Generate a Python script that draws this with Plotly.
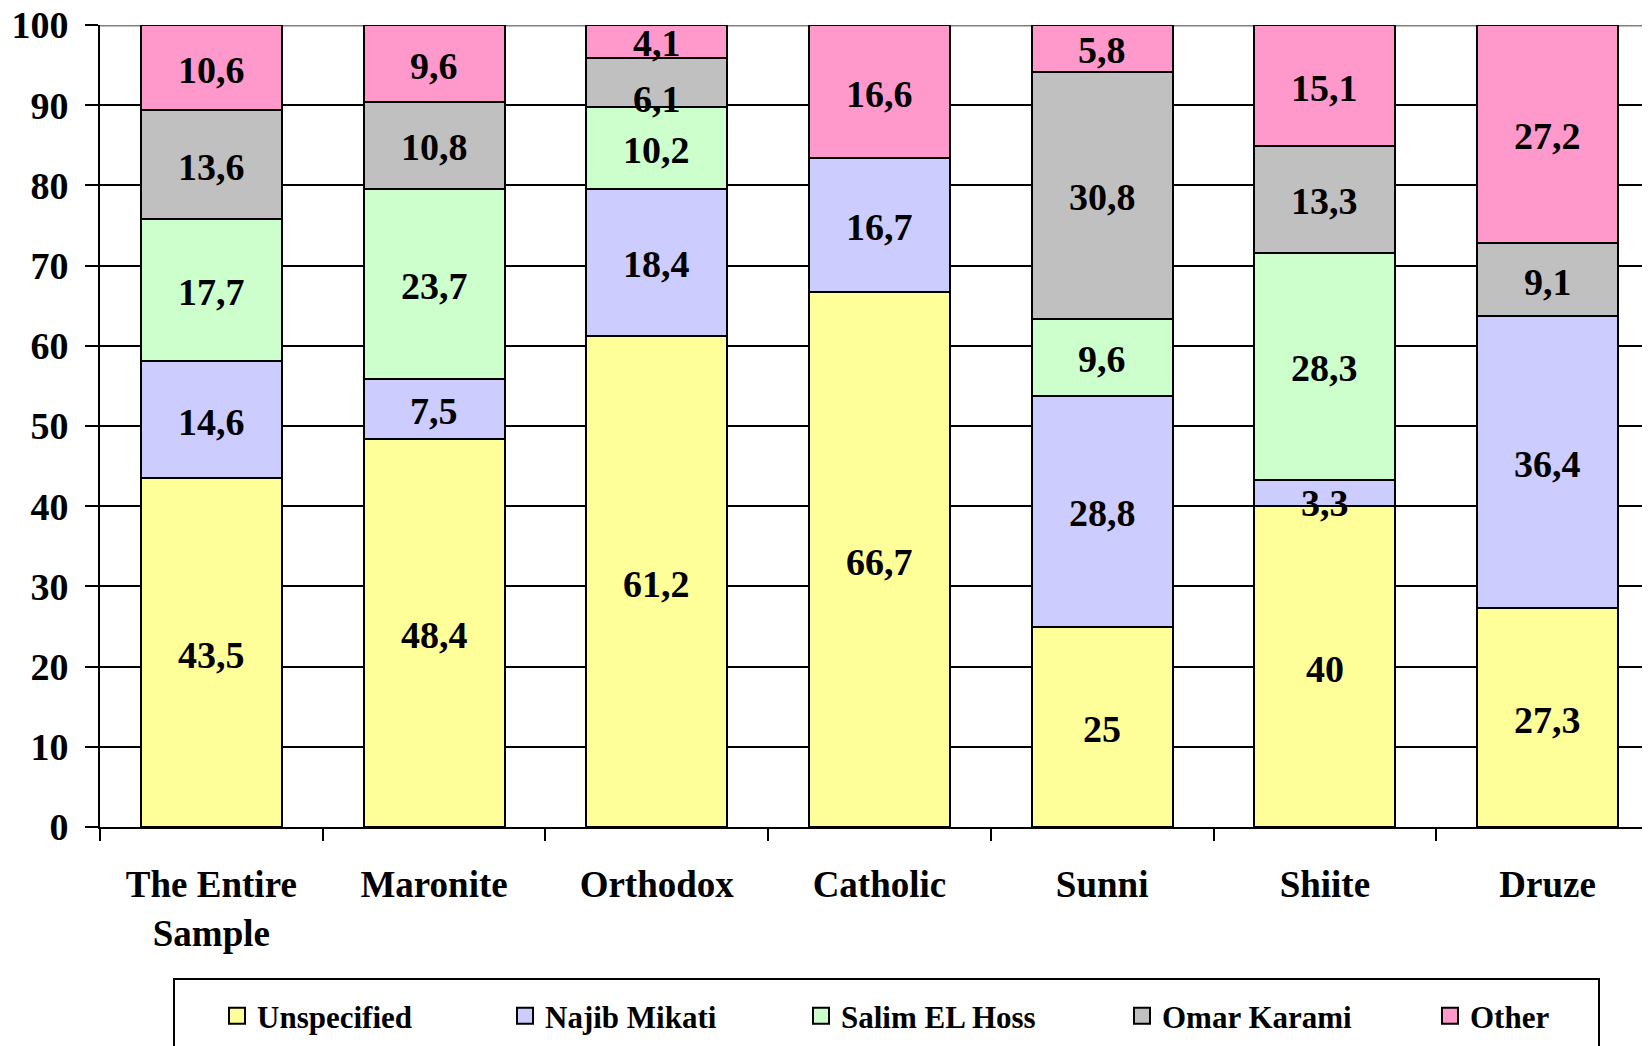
import plotly.graph_objects as go

categories = ["The Entire<br>Sample", "Maronite", "Orthodox", "Catholic", "Sunni", "Shiite", "Druze"]
series_names = ["Unspecified", "Najib Mikati", "Salim EL Hoss", "Omar Karami", "Other"]
unspecified = [43.5, 48.4, 61.2, 66.7, 25, 40, 27.3]
najib_mikati = [14.6, 7.5, 18.4, 16.7, 28.8, 3.3, 36.4]
salim_el_hoss = [17.7, 23.7, 10.2, 0, 9.6, 28.3, 0]
omar_karami = [13.6, 10.8, 6.1, 0, 30.8, 13.3, 9.1]
other = [10.6, 9.6, 4.1, 16.6, 5.8, 15.1, 27.2]
y_ticks = [0, 10, 20, 30, 40, 50, 60, 70, 80, 90, 100]

series_values = [unspecified, najib_mikati, salim_el_hoss, omar_karami, other]
colors = ["#FFFF99", "#CCCCFF", "#CCFFCC", "#C0C0C0", "#FF99CC"]

FONT = "Liberation Serif"
OFF = 8  # default page body margin of the html page
W, H = 1650 - OFF, 1046 - OFF
ML, MT, MB = 100 - OFF, 25 - OFF, 219
PW, PH = W - ML, H - MT - MB

legend_ids = ["legend", "legend2", "legend3", "legend4", "legend5"]
legend_left_px = [217, 505, 801, 1122, 1430]  # page coordinates
LEGEND_Y = 1016

fig = go.Figure()
for name, vals, col in zip(series_names, series_values, colors):
    fig.add_trace(go.Bar(
        x=categories, y=vals, name=name, showlegend=False,
        marker=dict(color=col, line=dict(color="black", width=2)),
    ))
# legend entries (square swatches)
for name, col, lid in zip(series_names, colors, legend_ids):
    fig.add_trace(go.Scatter(
        x=[None], y=[None], name=name, mode="markers", legend=lid,
        marker=dict(symbol="square", size=16, color=col, line=dict(color="black", width=2)),
        showlegend=True,
    ))

def fmt(v):
    return ("%g" % v).replace(".", ",")

# label nudges mimic the original placement of a few small-segment labels
nudge = {(2, 3): -15, (5, 1): -8}

annotations = []
for i, cat in enumerate(categories):
    base = 0.0
    for j, vals in enumerate(series_values):
        v = vals[i]
        if v > 0:
            annotations.append(dict(
                x=cat, y=base + v / 2, xref="x", yref="y", text=fmt(v),
                showarrow=False, yshift=nudge.get((i, j), 0) - 2,
                font=dict(family=FONT, size=38, color="black", weight="bold"),
            ))
        base += v

legend_font = dict(family=FONT, size=31, color="black", weight="bold")
layout_legends = {}
for lid, lx in zip(legend_ids, legend_left_px):
    layout_legends[lid] = dict(
        orientation="h", xref="container", yref="container",
        x=(lx - OFF) / W, xanchor="left", y=1 - (LEGEND_Y - OFF) / H, yanchor="middle",
        font=legend_font, bgcolor="rgba(0,0,0,0)", borderwidth=0,
    )

def py(page_y):
    # page pixel y -> paper fraction
    return (H - MB - (page_y - OFF)) / PH

def px(page_x):
    return (page_x - OFF - ML) / PW

fig.update_layout(
    annotations=annotations,
    barmode="stack",
    bargap=0.367,
    width=W, height=H,
    margin=dict(l=ML, r=0, t=MT, b=MB, autoexpand=False),
    plot_bgcolor="white", paper_bgcolor="white",
    font=dict(family=FONT, size=36, color="black", weight="bold"),
    showlegend=True,
    shapes=[
        dict(type="rect", xref="paper", yref="paper",
             x0=px(174), x1=px(1599), y0=py(1075), y1=py(979),
             line=dict(color="black", width=2), fillcolor="rgba(0,0,0,0)"),
        dict(type="line", xref="paper", yref="y", x0=0, x1=1, y0=100, y1=100,
             line=dict(color="#808080", width=3), layer="below"),
    ],
    **layout_legends,
)

fig.update_xaxes(
    type="category", range=[-0.5, 6.46], automargin=False,
    showline=True, linecolor="black", linewidth=2,
    ticks="outside", tickson="boundaries", ticklen=12, tickwidth=2, tickcolor="black",
    showgrid=False,
    tickfont=dict(family=FONT, size=37, color="black", weight="bold"),
    ticklabelstandoff=24, ticklabeloverflow="allow",
)
fig.update_yaxes(
    range=[0, 100], tickvals=y_ticks, automargin=False,
    showline=True, linecolor="black", linewidth=2,
    ticks="outside", ticklen=13, tickwidth=2, tickcolor="black",
    showgrid=True, gridcolor="black", gridwidth=1.5,
    zeroline=False,
    tickfont=dict(family=FONT, size=38, color="black", weight="bold"),
    ticklabelstandoff=9, ticklabeloverflow="allow",
)

fig.write_html("out.html")
